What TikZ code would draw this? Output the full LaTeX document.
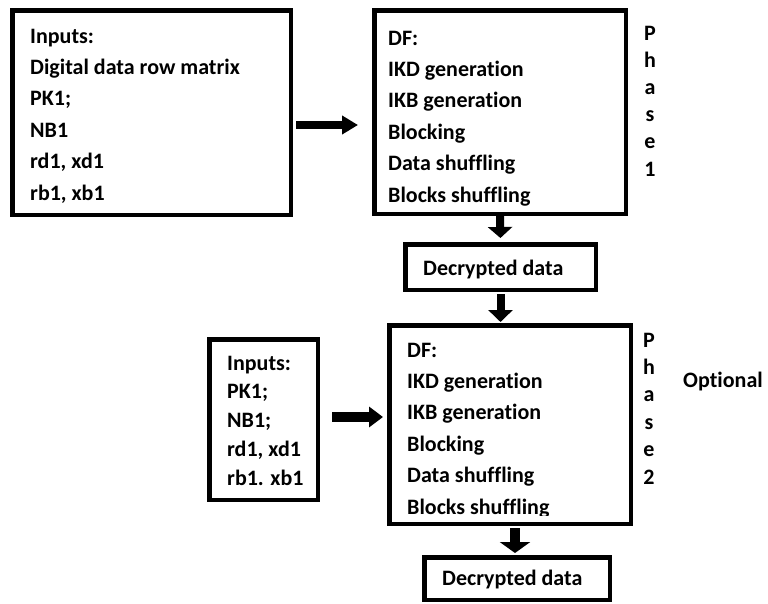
\documentclass[tikz,border=0pt]{standalone}
\usepackage{fontspec}
\setmainfont{Carlito}[Ligatures=NoCommon]
\usetikzlibrary{arrows.meta}
\tikzset{
  box/.style={draw, line width=4.5pt, inner sep=0pt},
  txt/.style={inner sep=0pt, font=\fontsize{22}{26}\selectfont\bfseries},
  bigarrow/.style n args={3}{line width=#1, -{Triangle[length=#2, width=#3]}},
}
\begin{document}
\begin{tikzpicture}[x=1pt, y=-1pt]
\useasboundingbox (0,0) rectangle (768,603);

% frames
\node[box, minimum width=278.5pt, minimum height=204.5pt] (in1)  at (151.5,112.5) {};
\node[box, minimum width=251.5pt, minimum height=203.5pt] (df1)  at (500,112) {};
\node[box, minimum width=190.5pt, minimum height=45.5pt]  (dec1) at (500.5,267) {};
\node[box, minimum width=241.5pt, minimum height=198.5pt] (df2)  at (510,424.5) {};
\node[box, minimum width=108.5pt, minimum height=160.5pt] (in2)  at (263.5,419.5) {};
\node[box, minimum width=185.5pt, minimum height=42.5pt]  (dec2) at (517,578.5) {};

% first stage: inputs and decryption functions
\foreach \t [count=\i] in {Inputs:, Digital data row matrix, PK1;, NB1, {rd1, xd1}, {rb1, xb1}}
  \node[txt, anchor=base west] (a\i) at (30,{43+31.4*(\i-1)}) {\t};
\foreach \t [count=\i] in {DF:, IKD generation, IKB generation, Blocking, Data shuffling, Blocks shuffling}
  \node[txt, anchor=base west] (b\i) at (388,{45+31.4*(\i-1)}) {\t};
\foreach \t [count=\i] in {P,h,a,s,e,1}
  \node[txt, anchor=base] (p\i) at (650,{40+27.2*(\i-1)}) {\t};
\node[txt, anchor=base west] (o1) at (423,275) {Decrypted data};

% second stage
\begin{scope}
  \clip (200,330) rectangle (330,487);
  \foreach \t [count=\i] in {Inputs:, PK1;, NB1;, {rd1, xd1}, rb1. xb1}
    \node[txt, anchor=base west] (c\i) at (227,{370+28.8*(\i-1)}) {\t};
\end{scope}
\begin{scope}
  \clip (380,330) rectangle (640,515.5);
  \foreach \t [count=\i] in {DF:, IKD generation, IKB generation, Blocking, Data shuffling, Blocks shuffling}
    \node[txt, anchor=base west] (d\i) at (407,{357+31.4*(\i-1)}) {\t};
\end{scope}
\foreach \t [count=\i] in {P,h,a,s,e,2}
  \node[txt, anchor=base] (q\i) at (649,{347+27.4*(\i-1)}) {\t};
\node[txt, anchor=base west] (opt) at (683,387) {Optional};
\node[txt, anchor=base west] (o2) at (442,585) {Decrypted data};

% connectors
\coordinate (r1) at (0,125);
\coordinate (r3) at (0,417);
\coordinate (d3) at (515,0);
\draw[bigarrow={8pt}{16pt}{18pt}, shorten <=3pt, shorten >=14pt] (in1.east |- r1) -- (df1.west |- r1);
\draw[bigarrow={8pt}{11pt}{24pt}, shorten >=4pt] (df1.south) -- (dec1.north);
\draw[bigarrow={8pt}{12pt}{24pt}, shorten <=2pt, shorten >=1pt] (dec1.south) -- (dec1.south |- df2.north);
\draw[bigarrow={10pt}{14pt}{20pt}, shorten <=12pt, shorten >=4pt] (in2.east |- r3) -- (df2.west |- r3);
\draw[bigarrow={10pt}{11pt}{30pt}, shorten <=2pt, shorten >=2pt] (df2.south -| d3) -- (dec2.north -| d3);
\end{tikzpicture}
\end{document}
